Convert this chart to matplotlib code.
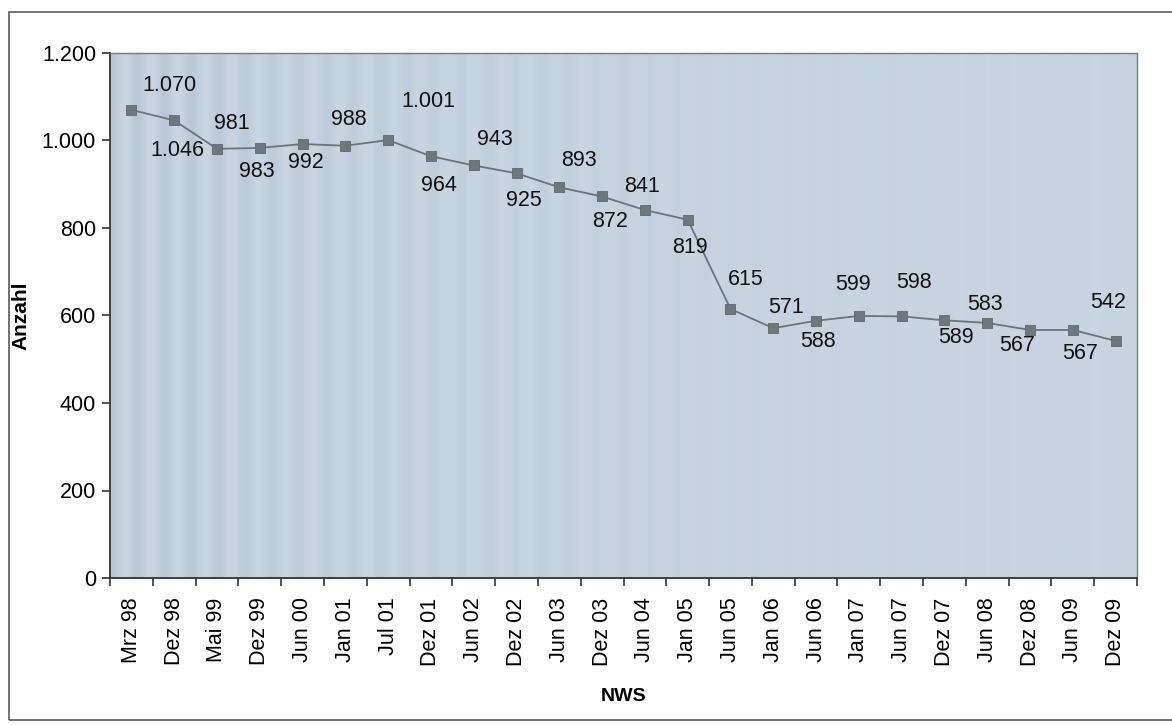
import numpy as np
import matplotlib
matplotlib.use("Agg")
import matplotlib.pyplot as plt
from matplotlib.patches import Rectangle
from matplotlib.ticker import FuncFormatter

plt.rcParams['font.family'] = ['Liberation Sans', 'DejaVu Sans']

# Stichtage und Anzahl
stichtage = ["Mrz 98", "Dez 98", "Mai 99", "Dez 99", "Jun 00", "Jan 01", "Jul 01",
             "Dez 01", "Jun 02", "Dez 02", "Jun 03", "Dez 03", "Jun 04", "Jan 05",
             "Jun 05", "Jan 06", "Jun 06", "Jan 07", "Jun 07", "Dez 07", "Jun 08",
             "Dez 08", "Jun 09", "Dez 09"]
anzahl = [1070, 1046, 981, 983, 992, 988, 1001, 964, 943, 925, 893, 872, 841, 819,
          615, 571, 588, 599, 598, 589, 583, 567, 567, 542]

# label offsets in pixels (dx, dy) relative to each marker
label_offsets = [(38, 24), (3, -30), (15, 25), (-3, -24), (3, -19), (3, 26), (40, 39),
                 (8, -29), (21, 26), (7, -27), (20, 27), (8, -25), (-3, 24), (2, -28),
                 (15, 29), (13, 21), (2, -21), (-6, 31), (12, 34), (12, -17), (-2, 18),
                 (-13, -16), (7, -24), (-7, 38)]


def fmt_de(v):
    return f"{int(v):,}".replace(",", ".")


fig = plt.figure(figsize=(11.72, 7.25), dpi=100)
fig.patch.set_facecolor("white")

# outer chart frame
fig.add_artist(Rectangle((9 / 1172, 5 / 725), 1.2, (725 - 17) / 725,
                         transform=fig.transFigure, fill=False,
                         edgecolor="#5a5a5a", linewidth=1.2))

ax = fig.add_axes([110 / 1172, (725 - 578) / 725, 1027 / 1172, 525 / 725])
ax.set_facecolor("#c8d5e1")

# faint vertical texture of the plot area
xs = np.linspace(0, 1, 800)
stripes = (0.5 + 0.5 * np.cos(xs * 2 * np.pi * 38)) * np.exp(-xs * 2.0)
ax.imshow(stripes[np.newaxis, :], extent=(0, 1, 0, 1), transform=ax.transAxes,
          aspect="auto", cmap=matplotlib.colors.LinearSegmentedColormap.from_list(
              "bg", ["#c9d6e2", "#b9c7d5"]), vmin=0, vmax=1, zorder=0)

x = np.arange(len(stichtage))
ax.plot(x, anzahl, color="#6a7479", linewidth=1.3, marker="s", markersize=7,
        markerfacecolor="#6d777c", markeredgecolor="#5e676c", markeredgewidth=0.6,
        zorder=3)

for xi, val, (dx, dy) in zip(x, anzahl, label_offsets):
    ax.annotate(fmt_de(val), (xi, val), xytext=(dx * 0.72, dy * 0.72),
                textcoords="offset points", ha="center", va="center",
                fontsize=15.5, color="#111111", zorder=4)

ax.set_xlim(-0.5, len(stichtage) - 0.5)
ax.set_ylim(0, 1200)
ax.set_yticks(range(0, 1201, 200))
ax.yaxis.set_major_formatter(FuncFormatter(lambda v, p: fmt_de(v)))

ax.set_xticks(np.arange(len(stichtage) + 1) - 0.5)
ax.set_xticklabels([])
ax.set_xticks(x, minor=True)
ax.set_xticklabels(stichtage, minor=True, rotation=90, fontsize=15.5)
ax.tick_params(axis="x", which="major", direction="out", length=6, width=1.2,
               color="#333333")
ax.tick_params(axis="x", which="minor", length=0, pad=14)
ax.tick_params(axis="y", direction="out", length=6, width=1.2, color="#333333",
               labelsize=15.5, pad=4)

for side in ("left", "bottom"):
    ax.spines[side].set_color("#333333")
    ax.spines[side].set_linewidth(1.3)
for side in ("top", "right"):
    ax.spines[side].set_color("#7a7a7a")
    ax.spines[side].set_linewidth(1.0)

ax.set_ylabel("Anzahl", fontsize=15, fontweight="bold")
ax.yaxis.set_label_coords(-80 / 1027, 0.5)
ax.set_xlabel("NWS", fontsize=14, fontweight="bold")
ax.xaxis.set_label_coords(0.5, -110 / 525)

fig.savefig("out.png", dpi=100)
